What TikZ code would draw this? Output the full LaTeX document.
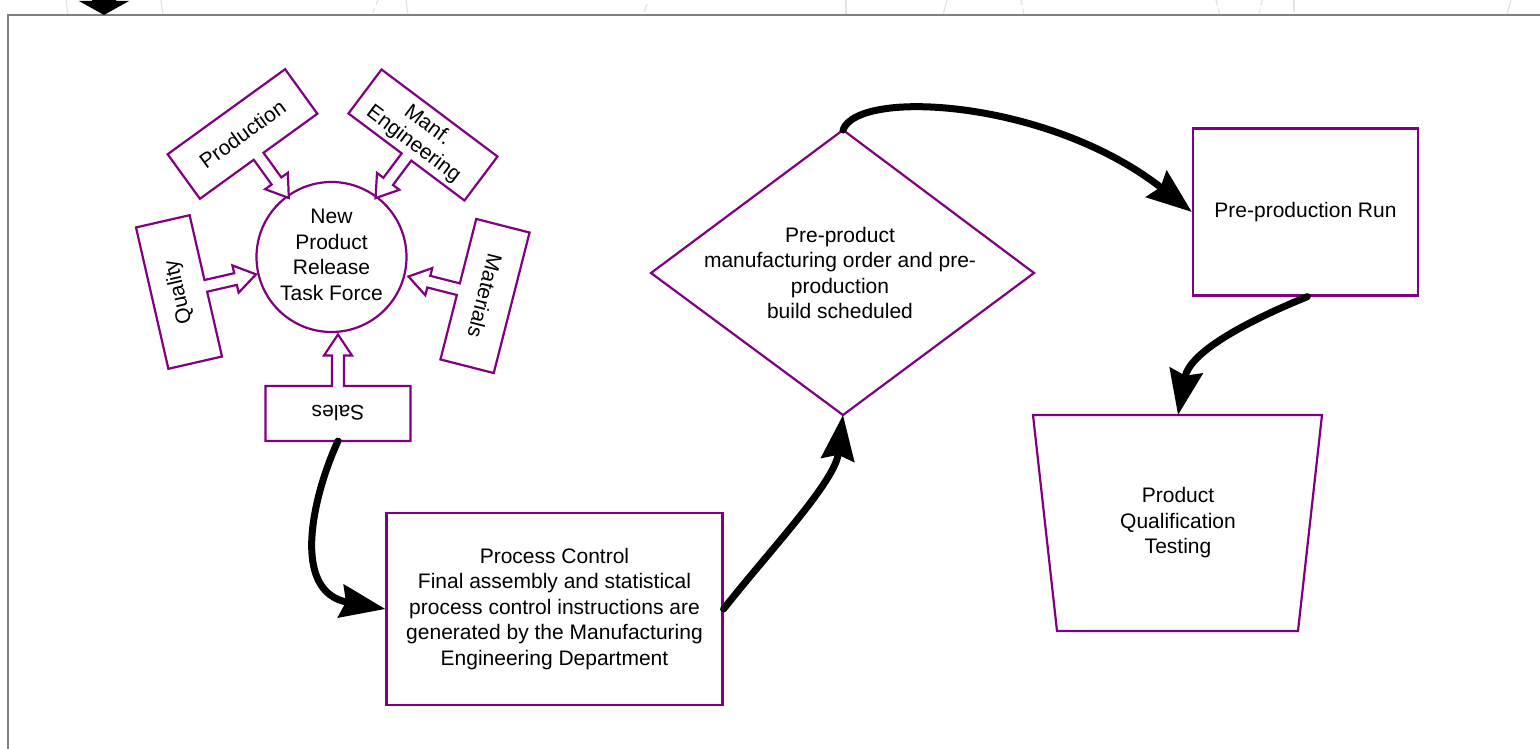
\documentclass[tikz,border=0pt]{standalone}
\usepackage{fontspec}
\setmainfont{Liberation Sans}
\usetikzlibrary{arrows.meta}
\definecolor{pur}{HTML}{800080}
\definecolor{faint}{HTML}{E4E4E4}
\begin{document}
\begin{tikzpicture}[x=1pt,y=-1pt,
  font=\fontsize{21}{25.5}\selectfont,
  shapeline/.style={draw=pur, line width=2.2pt, fill=white, line join=miter},
  boxnode/.style={shapeline, align=center, inner sep=0pt},
  txt/.style={align=center, inner sep=0pt},
  flow/.style={line width=7pt, line cap=round, -{Stealth[length=45pt,width=33pt,inset=5pt]}},
  frameline/.style={draw=black!50, line width=2pt},
  bgline/.style={draw=faint, line width=1.3pt},
  petal/.pic={
    \draw[shapeline] (-6,-27.5) -- (-6,-58) -- (-14,-58) -- (0,-79) -- (14,-58)
      -- (6,-58) -- (6,-27.5) -- (72.5,-27.5) -- (72.5,27.5) -- (-72.5,27.5)
      -- (-72.5,-27.5) -- cycle;
  }]
\useasboundingbox (0,0) rectangle (1540,749);
\fill[white] (0,0) rectangle (1540,749);

% faint background strokes at top
\draw[bgline] (66,0) -- (68,15);
\draw[bgline] (161,0) -- (163,15);
\draw[bgline, dash pattern=on 5pt off 4pt] (378,0) -- (372,15);
\draw[bgline] (406,0) -- (408,15);
\draw[bgline] (647,4) -- (644,12);
\draw[bgline] (846,0) -- (846,15);
\draw[bgline] (947,0) -- (943,15);
\draw[bgline, dash pattern=on 5pt off 4pt] (1021,0) -- (1024,15);
\draw[bgline, dash pattern=on 5pt off 4pt] (1216,0) -- (1220,15);
\draw[bgline, dash pattern=on 5pt off 4pt] (1262,0) -- (1259,15);
\draw[bgline] (1294,0) -- (1294,12);
\draw[bgline] (1511,0) -- (1507,15);

% frame
\draw[frameline] (8,749) -- (8,15) -- (1540,15);

% top-left arrow
\fill[black] (92,-10) -- (116,-10) -- (116,1) -- (129,1) -- (104,15) -- (79,1) -- (92,1) -- cycle;

% centre circle
\node[shapeline, circle, minimum size=150pt, inner sep=0pt] (npr) at (331.5,257) {};
\node[txt] (nprtext) at (331.5,255) {New\\Product\\Release\\Task Force};

% petals
\pic[rotate=0] at (338,413.5) {petal};
\node[txt, rotate=180] (sales) at (338,413.5) {Sales};
\pic[rotate=-77.1] at (179,292) {petal};
\node[txt, rotate=102.9] (quality) at (179,292) {Quality};
\pic[rotate=75.7] at (485,296) {petal};
\node[txt, rotate=-104.3] (materials) at (485,296) {Materials};
\pic[rotate=-144.1] at (242.5,134) {petal};
\node[txt, rotate=35.9] (production) at (242.5,134) {Production};
\pic[rotate=143.1] at (423,135) {petal};
\node[txt, rotate=-36.9] (manf) at (428.6,123.8) {Manf.};
\node[txt, rotate=-36.9] (engineering) at (413.4,144.2) {Engineering};

% process control box
\node[boxnode, minimum width=336pt, minimum height=192pt] (proc) at (554.5,609)
  {Process Control\\Final assembly and statistical\\process control instructions are\\generated by the Manufacturing\\Engineering Department};

% diamond
\draw[shapeline] (651,273) -- (843,130) -- (1034,273) -- (843,415) -- cycle;
\coordinate (diatop) at (843,130);
\coordinate (diabot) at (843,415);
\node[txt] (dia) at (840,273) {Pre-product\\manufacturing order and pre-\\production\\build scheduled};

% pre-production run
\node[boxnode, minimum width=225pt, minimum height=167pt] (prerun) at (1305.5,212) {Pre-production Run};

% trapezoid
\draw[shapeline] (1033,415) -- (1322,415) -- (1298,631) -- (1057,631) -- cycle;
\coordinate (traptop) at (1178,415);
\node[txt] (pqt) at (1178,523) {Product\\Qualification\\Testing};

% connectors
\coordinate (salesbot) at (338,441);
\draw[flow] (salesbot) .. controls (313,495) and (290,592) .. (proc.west);
\draw[flow] (proc.east) .. controls (770,550) and (835,482) .. (diabot);
\draw[flow] (diatop) .. controls (858,88) and (1050,100) .. (prerun.west);
\draw[flow] ([xshift=2pt]prerun.south) .. controls (1255,318) and (1190,350) .. (traptop);
\end{tikzpicture}
\end{document}
